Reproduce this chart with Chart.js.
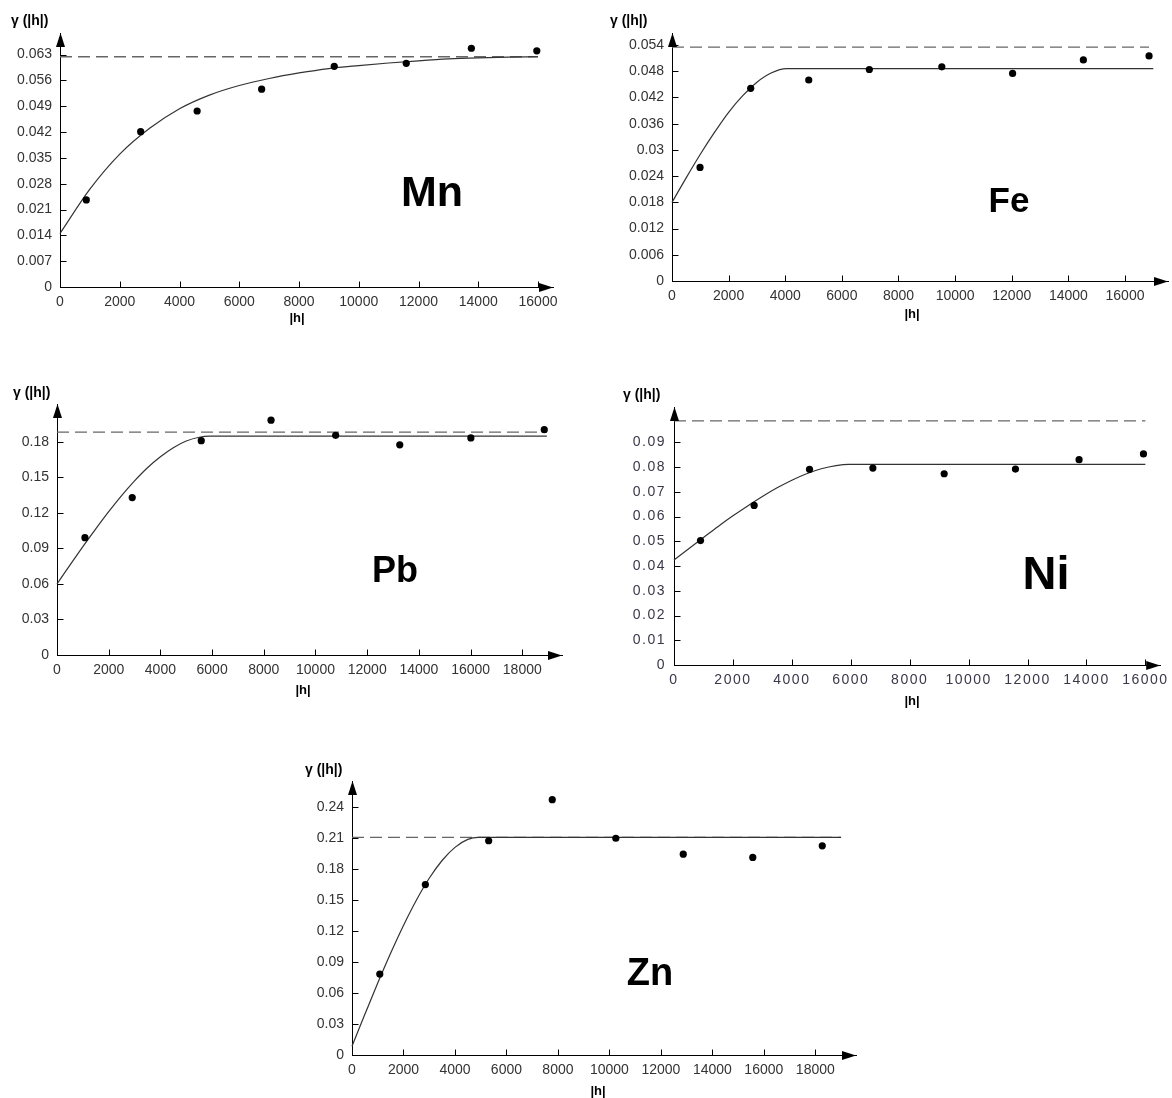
<!DOCTYPE html>
<html>
<head>
<meta charset="utf-8">
<title>Variograms</title>
<script src="https://cdn.jsdelivr.net/npm/chart.js@4.4.1/dist/chart.umd.min.js"></script>
<style>
  html, body { margin: 0; padding: 0; background: #fff; }
  body { width: 1172px; height: 1098px; position: relative; overflow: hidden; }
  .panel { position: absolute; }
  .panel canvas { display: block; }
</style>
</head>
<body>
<div class="panel" id="box-mn"><canvas id="mn"></canvas></div>
<div class="panel" id="box-fe"><canvas id="fe"></canvas></div>
<div class="panel" id="box-pb"><canvas id="pb"></canvas></div>
<div class="panel" id="box-ni"><canvas id="ni"></canvas></div>
<div class="panel" id="box-zn"><canvas id="zn"></canvas></div>
<script>
// Mn
const mnLag = [880, 2700, 4590, 6750, 9180, 11590, 13770, 15960];
const mnGamma = [0.0236, 0.0421, 0.0477, 0.0536, 0.0598, 0.0606, 0.0647, 0.064];
const mnModelLag = [0, 1000, 2000, 3000, 4000, 5000, 6000, 7000, 8000, 9000, 10000, 11000, 12000, 13000, 14000, 15000, 16000];
const mnModelGamma = [0.0145, 0.0265, 0.036, 0.043, 0.0483, 0.052, 0.0546, 0.0565, 0.058, 0.0592, 0.06, 0.0607, 0.0613, 0.0618, 0.0621, 0.0623, 0.0624];
const mnSillLag = [0, 16000];
const mnSill = [0.0624, 0.0624];
const mnXTicks = [0, 2000, 4000, 6000, 8000, 10000, 12000, 14000, 16000];
const mnYTicks = [0, 0.007, 0.014, 0.021, 0.028, 0.035, 0.042, 0.049, 0.056, 0.063];

// Fe
const feLag = [990, 2780, 4830, 6970, 9530, 12030, 14530, 16850];
const feGamma = [0.026, 0.0441, 0.046, 0.0484, 0.049, 0.0475, 0.0506, 0.0515];
const feModelLag = [0, 500, 1000, 1500, 2000, 2500, 3000, 3500, 4050, 17000];
const feModelGamma = [0.018, 0.0236, 0.029, 0.034, 0.0386, 0.0424, 0.0455, 0.0476, 0.0486, 0.0486];
const feSillLag = [0, 16850];
const feSill = [0.0535, 0.0535];
const feXTicks = [0, 2000, 4000, 6000, 8000, 10000, 12000, 14000, 16000];
const feYTicks = [0, 0.006, 0.012, 0.018, 0.024, 0.03, 0.036, 0.042, 0.048, 0.054];

// Pb
const pbLag = [1080, 2910, 5580, 8280, 10780, 13260, 16010, 18850];
const pbGamma = [0.0991, 0.133, 0.1811, 0.1984, 0.1856, 0.1776, 0.1834, 0.1904];
const pbModelLag = [0, 500, 1000, 1500, 2000, 2500, 3000, 3500, 4000, 4500, 5000, 5500, 5900, 18950];
const pbModelGamma = [0.06, 0.0759, 0.0915, 0.1066, 0.1211, 0.1347, 0.1471, 0.1582, 0.1675, 0.1752, 0.1808, 0.184, 0.1849, 0.1849];
const pbSillLag = [0, 18950];
const pbSill = [0.1883, 0.1883];
const pbXTicks = [0, 2000, 4000, 6000, 8000, 10000, 12000, 14000, 16000, 18000];
const pbYTicks = [0, 0.03, 0.06, 0.09, 0.12, 0.15, 0.18];

// Ni
const niLag = [900, 2720, 4600, 6750, 9170, 11590, 13750, 15935];
const niGamma = [0.0503, 0.0645, 0.0791, 0.0796, 0.0773, 0.0792, 0.083, 0.0853];
const niModelLag = [0, 500, 1000, 1500, 2000, 2500, 3000, 3500, 4000, 4500, 5000, 5500, 5930, 16000];
const niModelGamma = [0.0424, 0.047, 0.0515, 0.056, 0.0603, 0.0643, 0.0681, 0.0716, 0.0747, 0.0773, 0.0793, 0.0806, 0.0811, 0.0811];
const niSillLag = [0, 16000];
const niSill = [0.0987, 0.0987];
const niXTicks = [0, 2000, 4000, 6000, 8000, 10000, 12000, 14000, 16000];
const niYTicks = [0, 0.01, 0.02, 0.03, 0.04, 0.05, 0.06, 0.07, 0.08, 0.09];

// Zn
const znLag = [1080, 2850, 5310, 7780, 10250, 12870, 15570, 18270];
const znGamma = [0.0782, 0.1647, 0.2071, 0.2468, 0.2095, 0.1941, 0.191, 0.2022];
const znModelLag = [0, 500, 1000, 1500, 2000, 2500, 3000, 3500, 4000, 4500, 4900, 19000];
const znModelGamma = [0.0085, 0.0393, 0.0695, 0.0983, 0.1252, 0.1496, 0.1708, 0.188, 0.2007, 0.2084, 0.2104, 0.2104];
const znSillLag = [0, 19000];
const znSill = [0.2104, 0.2104];
const znXTicks = [0, 2000, 4000, 6000, 8000, 10000, 12000, 14000, 16000, 18000];
const znYTicks = [0, 0.03, 0.06, 0.09, 0.12, 0.15, 0.18, 0.21, 0.24];

const FONT = "'Liberation Sans', Arial, Helvetica, sans-serif";

const toXY = (xs, ys) => xs.map((x, i) => ({ x: x, y: ys[i] }));

// ticks inside the axes, arrow heads, and the free texts
const decor = {
  id: "decor",
  beforeDraw(chart, args, o) {
    if (o.spaced) chart.ctx.letterSpacing = "1.5px";
  },
  beforeDatasetsDraw(chart) {
    chart.ctx.letterSpacing = "0px";
  },
  afterDraw(chart, args, o) {
    const ctx = chart.ctx;
    const xs = chart.scales.x;
    const ys = chart.scales.y;
    const x0 = Math.round(xs.left) + 0.5;
    const y0 = Math.round(ys.bottom) + 0.5;
    ctx.save();
    ctx.strokeStyle = "#000";
    ctx.lineWidth = 1;
    ctx.beginPath();
    o.xTicks.forEach((v) => {
      if (v === 0) return;
      const px = Math.round(xs.getPixelForValue(v)) + 0.5;
      ctx.moveTo(px, y0);
      ctx.lineTo(px, y0 - 6);
    });
    o.yTicks.forEach((v) => {
      if (v === 0) return;
      const py = Math.round(ys.getPixelForValue(v)) + 0.5;
      ctx.moveTo(x0, py);
      ctx.lineTo(x0 + 6, py);
    });
    ctx.stroke();

    // arrows
    ctx.fillStyle = "#000";
    ctx.beginPath();
    ctx.moveTo(x0, ys.top);
    ctx.lineTo(x0 - 4.5, ys.top + 14);
    ctx.lineTo(x0 + 4.5, ys.top + 14);
    ctx.closePath();
    ctx.fill();
    ctx.beginPath();
    ctx.moveTo(xs.right, y0);
    ctx.lineTo(xs.right - 14, y0 - 4.5);
    ctx.lineTo(xs.right - 14, y0 + 4.5);
    ctx.closePath();
    ctx.fill();

    // texts
    ctx.textBaseline = "alphabetic";
    ctx.font = "bold 14px " + FONT;
    ctx.textAlign = "left";
    ctx.fillText("\u03b3 (|h|)", o.yTitle[0], o.yTitle[1]);
    ctx.font = "bold 13px " + FONT;
    ctx.textAlign = "center";
    ctx.fillText("|h|", o.xTitle[0], o.xTitle[1]);
    ctx.font = "bold " + o.nameSize + "px " + FONT;
    ctx.fillText(o.name, o.namePos[0], o.namePos[1]);
    ctx.restore();
  },
};

function makePanel(p) {
  const box = document.getElementById("box-" + p.id);
  box.style.left = p.box[0] + "px";
  box.style.top = p.box[1] + "px";
  const cv = document.getElementById(p.id);
  cv.width = p.box[2];
  cv.height = p.box[3];

  const left = p.box[0];
  const top = p.box[1];
  const yWidth = p.x0 - left;
  const xHeight = top + p.box[3] - p.y0;
  const tickFont = { family: FONT, size: 14 };
  const tickColor = p.spaced ? "#3a3848" : "#333";

  new Chart(cv, {
    type: "scatter",
    data: {
      datasets: [
        {
          label: "experimental",
          data: toXY(p.lag, p.gamma),
          showLine: false,
          pointRadius: 3.6,
          pointBackgroundColor: "#000",
          pointBorderWidth: 0,
          clip: false,
        },
        {
          label: "model",
          data: toXY(p.modelLag, p.modelGamma),
          showLine: true,
          pointRadius: 0,
          borderColor: "#333",
          borderWidth: 1.2,
          cubicInterpolationMode: "monotone",
          clip: false,
        },
        {
          label: "sill",
          data: toXY(p.sillLag, p.sill),
          showLine: true,
          pointRadius: 0,
          borderColor: "#666",
          borderWidth: 1.3,
          borderDash: [12, 6],
          clip: false,
        },
      ],
    },
    options: {
      responsive: false,
      animation: false,
      events: [],
      layout: {
        padding: { left: 0, bottom: 0, top: p.yTip - top, right: left + p.box[2] - p.xTip },
      },
      plugins: {
        legend: { display: false },
        tooltip: { enabled: false },
        decor: {
          xTicks: p.xTicks,
          yTicks: p.yTicks,
          spaced: p.spaced,
          name: p.name,
          nameSize: p.nameSize,
          namePos: [p.namePos[0] - left, p.namePos[1] - top],
          yTitle: [p.yTitle[0] - left, p.yTitle[1] - top],
          xTitle: [p.xTitle[0] - left, p.xTitle[1] - top],
        },
      },
      scales: {
        x: {
          type: "linear",
          min: 0,
          max: p.xMax,
          afterFit: (s) => { s.height = xHeight; },
          afterBuildTicks: (s) => { s.ticks = p.xTicks.map((v) => ({ value: v })); },
          grid: { drawOnChartArea: false, drawTicks: false },
          border: { color: "#000", width: 1 },
          ticks: { padding: 7, font: tickFont, color: tickColor, maxRotation: 0, autoSkip: false, callback: (v) => String(v) },
        },
        y: {
          type: "linear",
          min: 0,
          max: p.yMax,
          afterFit: (s) => { s.width = yWidth; },
          afterBuildTicks: (s) => { s.ticks = p.yTicks.map((v) => ({ value: v })); },
          grid: { drawOnChartArea: false, drawTicks: false },
          border: { color: "#000", width: 1 },
          ticks: { padding: 8, font: tickFont, color: tickColor, autoSkip: false, callback: (v) => String(v) },
        },
      },
    },
    plugins: [decor],
  });
}

makePanel({
  id: "mn", box: [0, 0, 580, 335], x0: 60, y0: 287, xTip: 553, yTip: 33, xMax: 16502, yMax: 0.06883,
  lag: mnLag, gamma: mnGamma, modelLag: mnModelLag, modelGamma: mnModelGamma, sillLag: mnSillLag, sill: mnSill,
  xTicks: mnXTicks, yTicks: mnYTicks,
  name: "Mn", nameSize: 43, namePos: [432, 206], yTitle: [11, 25], xTitle: [297, 322],
});
makePanel({
  id: "fe", box: [590, 0, 582, 335], x0: 672, y0: 281, xTip: 1168, yTip: 33, xMax: 17519, yMax: 0.05675,
  lag: feLag, gamma: feGamma, modelLag: feModelLag, modelGamma: feModelGamma, sillLag: feSillLag, sill: feSill,
  xTicks: feXTicks, yTicks: feYTicks,
  name: "Fe", nameSize: 35, namePos: [1009, 212], yTitle: [610, 25], xTitle: [912, 318],
});
makePanel({
  id: "pb", box: [0, 375, 580, 330], x0: 57, y0: 655, xTip: 562, yTip: 404, xMax: 19536, yMax: 0.2121,
  lag: pbLag, gamma: pbGamma, modelLag: pbModelLag, modelGamma: pbModelGamma, sillLag: pbSillLag, sill: pbSill,
  xTicks: pbXTicks, yTicks: pbYTicks,
  name: "Pb", nameSize: 36, namePos: [395, 582], yTitle: [13, 397], xTitle: [303, 694],
});
makePanel({
  id: "ni", box: [590, 375, 582, 335], x0: 674, y0: 665, xTip: 1167, yTip: 407, xMax: 16502, yMax: 0.10427,
  lag: niLag, gamma: niGamma, modelLag: niModelLag, modelGamma: niModelGamma, sillLag: niSillLag, sill: niSill,
  xTicks: niXTicks, yTicks: niYTicks, spaced: true,
  name: "Ni", nameSize: 47, namePos: [1046, 589], yTitle: [623, 399], xTitle: [912, 705],
});
makePanel({
  id: "zn", box: [290, 750, 580, 348], x0: 352, y0: 1055, xTip: 856, yTip: 781, xMax: 19581, yMax: 0.26484,
  lag: znLag, gamma: znGamma, modelLag: znModelLag, modelGamma: znModelGamma, sillLag: znSillLag, sill: znSill,
  xTicks: znXTicks, yTicks: znYTicks,
  name: "Zn", nameSize: 38, namePos: [650, 985], yTitle: [305, 774], xTitle: [598, 1095],
});
</script>
</body>
</html>
